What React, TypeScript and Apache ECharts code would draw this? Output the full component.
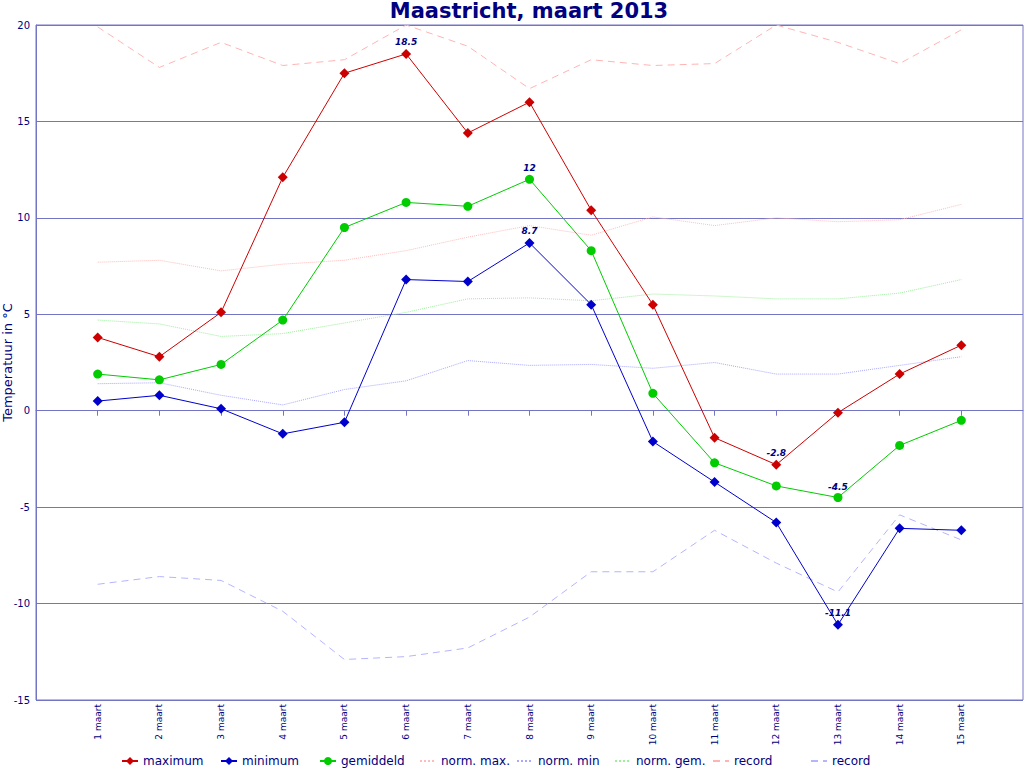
import React, { useEffect, useRef } from "react";
import * as echarts from "echarts";

const days = [
  "1 maart", "2 maart", "3 maart", "4 maart", "5 maart", "6 maart", "7 maart", "8 maart",
  "9 maart", "10 maart", "11 maart", "12 maart", "13 maart", "14 maart", "15 maart",
];
const maximum = [3.8, 2.8, 5.1, 12.1, 17.5, 18.5, 14.4, 16.0, 10.4, 5.5, -1.4, -2.8, -0.1, 1.9, 3.4];
const minimum = [0.5, 0.8, 0.1, -1.2, -0.6, 6.8, 6.7, 8.7, 5.5, -1.6, -3.7, -5.8, -11.1, -6.1, -6.2];
const gemiddeld = [1.9, 1.6, 2.4, 4.7, 9.5, 10.8, 10.6, 12.0, 8.3, 0.9, -2.7, -3.9, -4.5, -1.8, -0.5];
const normMax = [7.7, 7.8, 7.25, 7.6, 7.8, 8.3, 9.0, 9.6, 9.1, 10.05, 9.6, 10.0, 9.8, 9.9, 10.7];
const normMin = [1.4, 1.45, 0.8, 0.3, 1.1, 1.55, 2.6, 2.35, 2.4, 2.2, 2.5, 1.9, 1.9, 2.35, 2.8];
const normGem = [4.7, 4.5, 3.85, 4.0, 4.55, 5.1, 5.8, 5.85, 5.7, 6.05, 5.95, 5.8, 5.8, 6.1, 6.8];
const recordMax = [19.9, 17.8, 19.1, 17.9, 18.2, 20.0, 18.9, 16.7, 18.2, 17.9, 18.0, 20.0, 19.1, 18.0, 19.75];
const recordMin = [-9.0, -8.6, -8.8, -10.4, -12.9, -12.75, -12.3, -10.7, -8.35, -8.35, -6.2, -7.9, -9.4, -5.4, -6.7];

const legendNames = ["maximum", "minimum", "gemiddeld", "norm. max.", "norm. min", "norm. gem.", "record", "record "];

const NAVY = "#000080";
const GRID = "#7474c4";
const FONT = "DejaVu Sans";

function App() {
  const ref = useRef<HTMLDivElement>(null);
  useEffect(() => {
    if (!ref.current) return;
    const chart = echarts.init(ref.current, undefined, { renderer: "svg" });
    const xData = ["", ...days, ""];
    const pts = (arr: number[], labelled: boolean) => {
      const maxI = arr.indexOf(Math.max(...arr));
      const minI = arr.indexOf(Math.min(...arr));
      return arr.map((v, i) => {
        if (labelled && (i === maxI || i === minI)) {
          return {
            value: [i + 1, v],
            label: {
              show: true,
              position: "top",
              distance: 2,
              formatter: String(v),
              color: NAVY,
              fontFamily: FONT,
              fontSize: 9,
              fontWeight: "bold",
              fontStyle: "italic",
            },
          };
        }
        return { value: [i + 1, v] };
      });
    };
    const mainLine = (name: string, arr: number[], color: string, symbol: string, size: number) => ({
      name,
      type: "line",
      data: pts(arr, true),
      symbol,
      symbolSize: size,
      showAllSymbol: true,
      lineStyle: { color, width: 1 },
      itemStyle: { color },
      z: 5,
    });
    const thinLine = (name: string, arr: number[], color: string, type: any) => ({
      name,
      type: "line",
      data: pts(arr, false),
      symbol: "none",
      lineStyle: { color, width: 1, type },
      itemStyle: { color },
      z: 2,
    });
    const legendLefts = [121, 220, 319, 419, 516, 614, 712, 810];
    const legends = legendNames.map((name, i) => ({
      left: legendLefts[i],
      top: 755,
      padding: 0,
      itemWidth: 16,
      itemHeight: 10,
      textStyle: { color: NAVY, fontFamily: FONT, fontSize: 12 },
      data: [i < 3 ? { name } : { name, itemStyle: { opacity: 0 } }],
    }));
    chart.setOption({
      animation: false,
      title: {
        text: "Maastricht, maart 2013",
        left: 529,
        textAlign: "center",
        top: 0,
        padding: 0,
        textStyle: { color: NAVY, fontFamily: FONT, fontSize: 21, fontWeight: "bold" },
      },
      grid: {
        left: 36,
        right: 1,
        top: 25,
        bottom: 68,
        outerBoundsMode: "none",
        containLabel: false,
        show: true,
        borderColor: GRID,
        borderWidth: 1,
        backgroundColor: "transparent",
      },
      legend: legends,
      xAxis: {
        type: "category",
        data: xData,
        boundaryGap: false,
        axisLine: { lineStyle: { color: GRID } },
        axisTick: {
          show: true,
          length: 5,
          interval: (i: number) => i > 0 && i < xData.length - 1,
          lineStyle: { color: GRID },
        },
        axisLabel: {
          interval: 0,
          rotate: 90,
          margin: 4,
          color: NAVY,
          fontFamily: FONT,
          fontSize: 9,
        },
        splitLine: { show: false },
      },
      yAxis: {
        type: "value",
        min: -15,
        max: 20,
        interval: 5,
        name: "Temperatuur in °C",
        nameLocation: "middle",
        nameGap: 22,
        nameMoveOverlap: false,
        nameTextStyle: { color: NAVY, fontFamily: FONT, fontSize: 13 },
        axisLine: { show: true, lineStyle: { color: GRID } },
        axisTick: { show: false },
        axisLabel: { color: NAVY, fontFamily: FONT, fontSize: 10, margin: 6 },
        splitLine: { show: true, lineStyle: { color: GRID, width: 1 } },
      },
      series: [
        mainLine("maximum", maximum, "#cc0000", "diamond", 10),
        mainLine("minimum", minimum, "#0000cc", "diamond", 10),
        mainLine("gemiddeld", gemiddeld, "#00cc00", "circle", 9),
        thinLine("norm. max.", normMax, "#ffbcbc", "dotted"),
        thinLine("norm. min", normMin, "#a8a8ff", "dotted"),
        thinLine("norm. gem.", normGem, "#9cf09c", "dotted"),
        thinLine("record", recordMax, "#ffb4b4", [7, 5]),
        thinLine("record ", recordMin, "#b4b4ff", [7, 5]),
      ],
    });
    return () => chart.dispose();
  }, []);
  return (
    <div
      ref={ref}
      style={{ position: "fixed", left: 0, top: 0, width: 1024, height: 768, background: "#fff" }}
    />
  );
}

export default App;
